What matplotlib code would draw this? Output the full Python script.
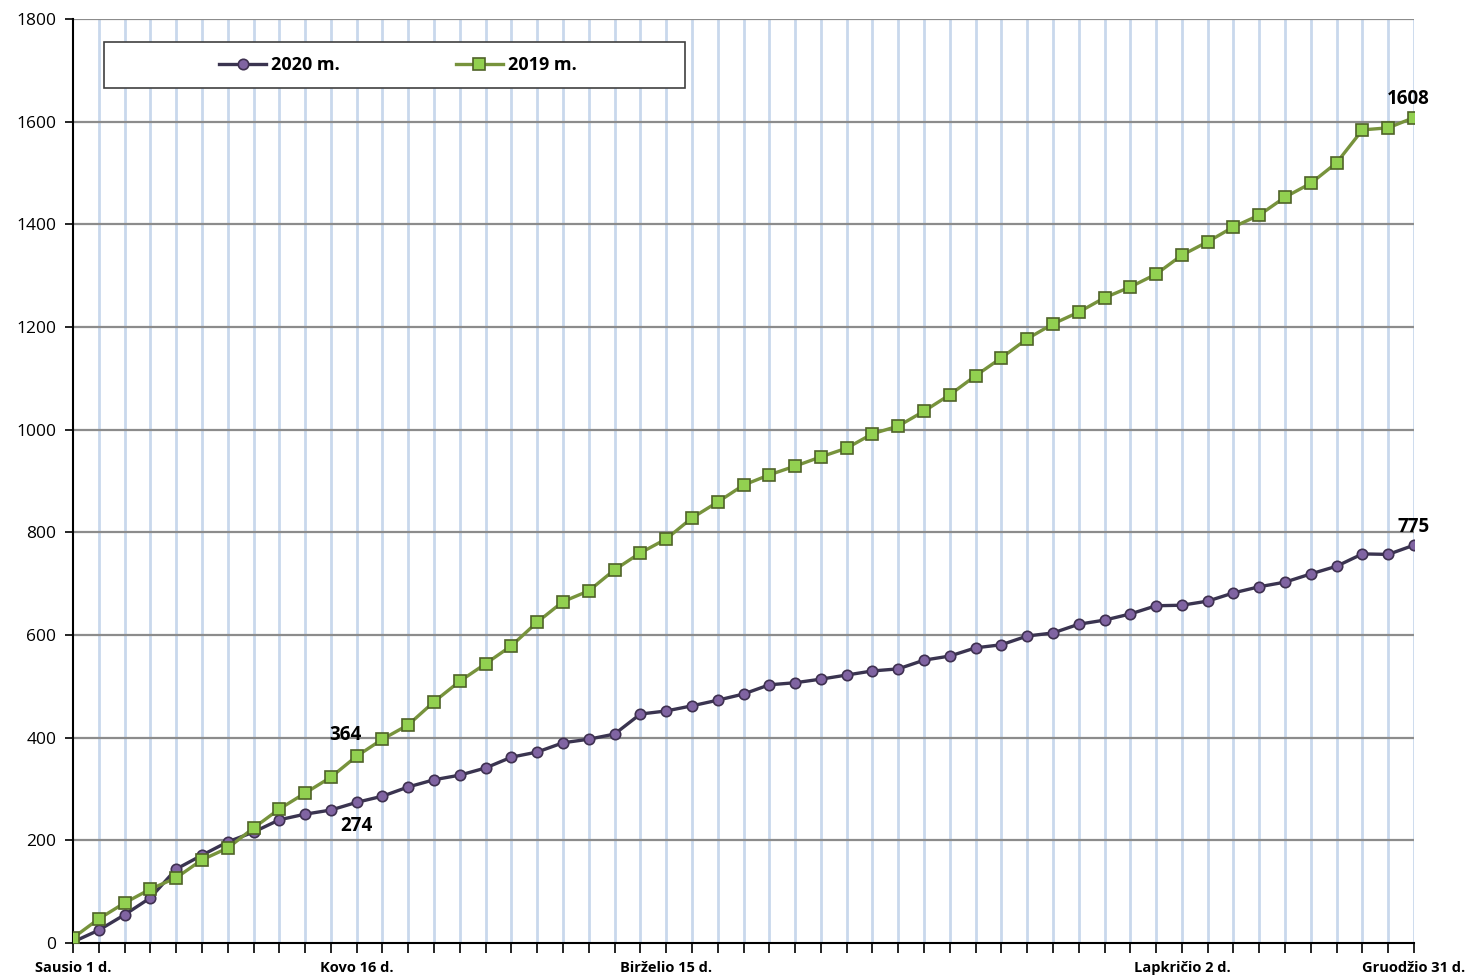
import matplotlib
matplotlib.use('Agg')
import matplotlib.pyplot as plt
from matplotlib.patches import Rectangle

plt.rcParams['font.family'] = ['Open Sans', 'DejaVu Sans']

# weekly cumulative values
weeks = list(range(53))
values_2020 = [2, 25, 55, 88, 144, 171, 197, 216, 240, 251, 259, 274, 286, 304, 318, 327,
               341, 362, 372, 390, 397, 407, 446, 452, 462, 473, 485, 503, 507, 514, 522,
               530, 534, 551, 559, 575, 581, 598, 604, 621, 629, 641, 657, 658, 666, 682,
               694, 703, 719, 734, 758, 757, 775]
values_2019 = [10, 47, 78, 105, 127, 162, 185, 224, 261, 292, 323, 364, 397, 425, 470, 510,
               544, 579, 625, 665, 686, 727, 760, 787, 828, 859, 892, 912, 929, 947, 964,
               992, 1007, 1036, 1068, 1105, 1140, 1177, 1206, 1229, 1257, 1278, 1303, 1340,
               1366, 1395, 1418, 1453, 1480, 1520, 1584, 1588, 1608]
tick_pos = [0, 11, 23, 43, 52]
tick_labels = ['Sausio 1 d.', 'Kovo 16 d.', 'Birželio 15 d.', 'Lapkričio 2 d.', 'Gruodžio 31 d.']

fig = plt.figure(figsize=(14.71, 9.76), dpi=100)
ax = fig.add_axes([73 / 1471, 33 / 976, (1414 - 73) / 1471, (943 - 19) / 976])

for x in weeks[1:]:
    ax.axvline(x, color='#c9d8ec', lw=2, zorder=0)
for y in range(200, 1801, 200):
    ax.axhline(y, color='#8c8c8c', lw=1.6, zorder=0)

ax.plot(weeks, values_2020, color='#3a3450', lw=2.4, marker='o', ms=7.5,
        mfc='#8064a2', mec='#3f3151', mew=1.2, label='2020 m.', zorder=3)
ax.plot(weeks, values_2019, color='#77933c', lw=2.4, marker='s', ms=8.5,
        mfc='#92d050', mec='#4f6228', mew=1.2, label='2019 m.', zorder=3)

ax.set_xlim(0, 52)
ax.set_ylim(0, 1800)
ax.set_yticks(range(0, 1801, 200))
ax.set_xticks(weeks, minor=True)
ax.set_xticks(tick_pos)
ax.set_xticklabels(tick_labels, fontweight='bold', fontsize=10.5)
ax.tick_params(axis='x', which='both', length=7, width=1.2, direction='out', pad=6)
ax.tick_params(axis='y', length=6, width=1.2, labelsize=12.5, pad=6)
for spine in ['top', 'right']:
    ax.spines[spine].set_visible(False)
for spine in ['left', 'bottom']:
    ax.spines[spine].set_linewidth(1.5)

ax.annotate('364', (11, values_2019[11]), xytext=(-8, 8), textcoords='offset points',
            ha='center', va='bottom', fontsize=13.5, fontweight='bold')
ax.annotate('274', (11, values_2020[11]), xytext=(0, -10), textcoords='offset points',
            ha='center', va='top', fontsize=13.5, fontweight='bold')
ax.annotate('1608', (52, values_2019[-1]), xytext=(-4, 6), textcoords='offset points',
            ha='center', va='bottom', fontsize=13.5, fontweight='bold', annotation_clip=False)
ax.annotate('775', (52, values_2020[-1]), xytext=(0, 6), textcoords='offset points',
            ha='center', va='bottom', fontsize=13.5, fontweight='bold', annotation_clip=False)

# legend box
fig.patches.append(Rectangle((104 / 1471, 1 - 88 / 976), 581 / 1471, 46 / 976,
                             transform=fig.transFigure, facecolor='white',
                             edgecolor='#404040', lw=1.2, zorder=5))
leg = fig.legend(loc='center', bbox_to_anchor=(398 / 1471, 1 - 65 / 976), ncol=2,
                 frameon=False, columnspacing=6.4, handlelength=2.6, handletextpad=0.3,
                 prop={'weight': 'bold', 'size': 13})
leg.set_zorder(6)

fig.savefig('out.png', dpi=100)
